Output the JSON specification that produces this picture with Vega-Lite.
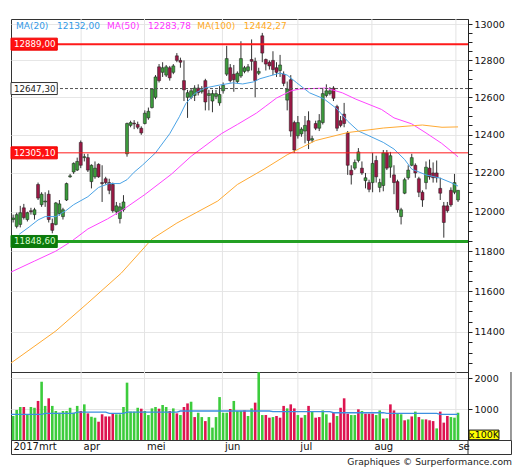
{
"$schema": "https://vega.github.io/schema/vega-lite/v6.json",
"padding": {"left": 7, "top": 18, "right": 4, "bottom": 4},
"background": "white",
"config": {
  "view": {"stroke": "#333333", "strokeWidth": 1},
  "font": "DejaVu Sans",
  "scale": {"continuousPadding": 0},
  "axis": {"labelFont": "DejaVu Sans", "labelFontSize": 9.5, "labelColor": "#111111", "tickColor": "#222222", "domainColor": "#222222", "tickSize": 4, "labelPadding": 2, "title": null}
},
"title": {"text": "Graphiques © Surperformance.com", "orient": "bottom", "anchor": "end", "font": "DejaVu Sans", "fontSize": 9.2, "fontWeight": "normal", "color": "#222222", "offset": 3},
"datasets": {
  "months": [
    {"g": -0.6, "m": "2017mrt"}, {"g": 19.1, "m": "apr"}, {"g": 36.9, "m": "mei"}, {"g": 58.8, "m": "jun"},
    {"g": 80.0, "m": "jul"}, {"g": 100.8, "m": "aug"}, {"g": 124.4, "m": "se"}
  ],
  "levels": [
    {"lvl": 12889, "lab": "12889,00", "k": "res"},
    {"lvl": 12647.3, "lab": "12647,30", "k": "close"},
    {"lvl": 12305.1, "lab": "12305,10", "k": "sup"},
    {"lvl": 11848.6, "lab": "11848,60", "k": "low"}
  ],
  "candles": [
    {"i":0,"o":11960,"h":11985,"l":11945,"c":11968,"d":"up"},
    {"i":1,"o":11925,"h":11995,"l":11915,"c":11985,"d":"up"},
    {"i":2,"o":11935,"h":12030,"l":11920,"c":11995,"d":"up"},
    {"i":3,"o":12020,"h":12040,"l":11960,"c":11970,"d":"dn"},
    {"i":4,"o":11960,"h":12000,"l":11950,"c":11995,"d":"up"},
    {"i":5,"o":12005,"h":12020,"l":11985,"c":12000,"d":"dn"},
    {"i":6,"o":11985,"h":12020,"l":11960,"c":12010,"d":"up"},
    {"i":7,"o":12140,"h":12150,"l":12060,"c":12070,"d":"dn"},
    {"i":8,"o":12036,"h":12100,"l":12025,"c":12090,"d":"up"},
    {"i":9,"o":12050,"h":12100,"l":12025,"c":12055,"d":"up"},
    {"i":10,"o":12090,"h":12110,"l":11945,"c":11960,"d":"dn"},
    {"i":11,"o":11940,"h":11965,"l":11890,"c":11905,"d":"dn"},
    {"i":12,"o":11935,"h":12050,"l":11930,"c":12045,"d":"up"},
    {"i":13,"o":11990,"h":12060,"l":11980,"c":12040,"d":"up"},
    {"i":14,"o":11975,"h":12020,"l":11960,"c":12010,"d":"up"},
    {"i":15,"o":12060,"h":12150,"l":12055,"c":12145,"d":"up"},
    {"i":16,"o":12180,"h":12195,"l":12175,"c":12185,"d":"up"},
    {"i":17,"o":12205,"h":12255,"l":12195,"c":12250,"d":"up"},
    {"i":18,"o":12215,"h":12280,"l":12210,"c":12260,"d":"up"},
    {"i":19,"o":12360,"h":12370,"l":12225,"c":12240,"d":"dn"},
    {"i":20,"o":12280,"h":12300,"l":12260,"c":12285,"d":"up"},
    {"i":21,"o":12280,"h":12300,"l":12205,"c":12215,"d":"dn"},
    {"i":22,"o":12155,"h":12245,"l":12120,"c":12240,"d":"up"},
    {"i":23,"o":12180,"h":12260,"l":12170,"c":12225,"d":"up"},
    {"i":24,"o":12245,"h":12250,"l":12175,"c":12180,"d":"dn"},
    {"i":25,"o":12150,"h":12240,"l":12050,"c":12145,"d":"dn"},
    {"i":26,"o":12170,"h":12180,"l":12140,"c":12150,"d":"dn"},
    {"i":27,"o":12150,"h":12170,"l":12090,"c":12110,"d":"dn"},
    {"i":28,"o":12140,"h":12150,"l":11995,"c":12005,"d":"dn"},
    {"i":29,"o":12000,"h":12050,"l":11985,"c":12030,"d":"up"},
    {"i":30,"o":11965,"h":12045,"l":11940,"c":12025,"d":"up"},
    {"i":31,"o":12010,"h":12085,"l":12000,"c":12050,"d":"up"},
    {"i":32,"o":12300,"h":12465,"l":12285,"c":12460,"d":"up"},
    {"i":33,"o":12450,"h":12475,"l":12440,"c":12465,"d":"up"},
    {"i":34,"o":12462,"h":12478,"l":12430,"c":12458,"d":"dn"},
    {"i":35,"o":12455,"h":12470,"l":12430,"c":12440,"d":"dn"},
    {"i":36,"o":12435,"h":12445,"l":12400,"c":12410,"d":"dn"},
    {"i":37,"o":12460,"h":12530,"l":12455,"c":12515,"d":"up"},
    {"i":38,"o":12490,"h":12545,"l":12480,"c":12525,"d":"up"},
    {"i":39,"o":12545,"h":12650,"l":12540,"c":12645,"d":"up"},
    {"i":40,"o":12600,"h":12720,"l":12590,"c":12710,"d":"up"},
    {"i":41,"o":12765,"h":12780,"l":12680,"c":12690,"d":"dn"},
    {"i":42,"o":12735,"h":12790,"l":12710,"c":12760,"d":"up"},
    {"i":43,"o":12720,"h":12775,"l":12710,"c":12765,"d":"up"},
    {"i":44,"o":12760,"h":12770,"l":12690,"c":12705,"d":"dn"},
    {"i":45,"o":12735,"h":12780,"l":12725,"c":12770,"d":"up"},
    {"i":46,"o":12825,"h":12840,"l":12790,"c":12800,"d":"dn"},
    {"i":47,"o":12800,"h":12815,"l":12760,"c":12790,"d":"dn"},
    {"i":48,"o":12690,"h":12800,"l":12580,"c":12640,"d":"dn"},
    {"i":49,"o":12600,"h":12640,"l":12490,"c":12625,"d":"up"},
    {"i":50,"o":12600,"h":12650,"l":12590,"c":12635,"d":"up"},
    {"i":51,"o":12610,"h":12665,"l":12580,"c":12650,"d":"up"},
    {"i":52,"o":12650,"h":12670,"l":12610,"c":12625,"d":"dn"},
    {"i":53,"o":12630,"h":12660,"l":12620,"c":12640,"d":"up"},
    {"i":54,"o":12690,"h":12700,"l":12530,"c":12575,"d":"dn"},
    {"i":55,"o":12610,"h":12640,"l":12530,"c":12620,"d":"up"},
    {"i":56,"o":12580,"h":12640,"l":12520,"c":12620,"d":"up"},
    {"i":57,"o":12605,"h":12640,"l":12590,"c":12620,"d":"up"},
    {"i":58,"o":12570,"h":12660,"l":12555,"c":12615,"d":"up"},
    {"i":59,"o":12635,"h":12680,"l":12620,"c":12665,"d":"up"},
    {"i":60,"o":12725,"h":12880,"l":12715,"c":12810,"d":"up"},
    {"i":61,"o":12760,"h":12780,"l":12680,"c":12690,"d":"dn"},
    {"i":62,"o":12725,"h":12775,"l":12630,"c":12695,"d":"dn"},
    {"i":63,"o":12685,"h":12740,"l":12675,"c":12730,"d":"up"},
    {"i":64,"o":12715,"h":12905,"l":12705,"c":12810,"d":"up"},
    {"i":65,"o":12740,"h":12770,"l":12730,"c":12760,"d":"up"},
    {"i":66,"o":12745,"h":12780,"l":12735,"c":12765,"d":"up"},
    {"i":67,"o":12805,"h":12915,"l":12745,"c":12795,"d":"dn"},
    {"i":68,"o":12795,"h":12815,"l":12600,"c":12690,"d":"dn"},
    {"i":69,"o":12730,"h":12760,"l":12720,"c":12740,"d":"up"},
    {"i":70,"o":12935,"h":12951,"l":12790,"c":12840,"d":"dn"},
    {"i":71,"o":12805,"h":12810,"l":12745,"c":12780,"d":"dn"},
    {"i":72,"o":12790,"h":12800,"l":12750,"c":12770,"d":"dn"},
    {"i":73,"o":12800,"h":12850,"l":12720,"c":12750,"d":"dn"},
    {"i":74,"o":12760,"h":12790,"l":12710,"c":12735,"d":"dn"},
    {"i":75,"o":12745,"h":12830,"l":12710,"c":12775,"d":"up"},
    {"i":76,"o":12725,"h":12740,"l":12660,"c":12675,"d":"dn"},
    {"i":77,"o":12585,"h":12685,"l":12530,"c":12645,"d":"up"},
    {"i":78,"o":12695,"h":12720,"l":12390,"c":12420,"d":"dn"},
    {"i":79,"o":12465,"h":12475,"l":12305,"c":12320,"d":"dn"},
    {"i":80,"o":12395,"h":12500,"l":12380,"c":12465,"d":"up"},
    {"i":81,"o":12405,"h":12440,"l":12390,"c":12430,"d":"up"},
    {"i":82,"o":12420,"h":12500,"l":12355,"c":12450,"d":"up"},
    {"i":83,"o":12475,"h":12525,"l":12325,"c":12370,"d":"dn"},
    {"i":84,"o":12372,"h":12395,"l":12360,"c":12380,"d":"up"},
    {"i":85,"o":12460,"h":12475,"l":12425,"c":12435,"d":"dn"},
    {"i":86,"o":12435,"h":12510,"l":12420,"c":12475,"d":"up"},
    {"i":87,"o":12465,"h":12645,"l":12455,"c":12620,"d":"up"},
    {"i":88,"o":12610,"h":12670,"l":12600,"c":12635,"d":"up"},
    {"i":89,"o":12620,"h":12655,"l":12610,"c":12635,"d":"up"},
    {"i":90,"o":12650,"h":12660,"l":12580,"c":12595,"d":"dn"},
    {"i":91,"o":12550,"h":12560,"l":12420,"c":12435,"d":"dn"},
    {"i":92,"o":12475,"h":12500,"l":12440,"c":12450,"d":"dn"},
    {"i":93,"o":12510,"h":12570,"l":12440,"c":12460,"d":"dn"},
    {"i":94,"o":12410,"h":12420,"l":12190,"c":12240,"d":"dn"},
    {"i":95,"o":12214,"h":12240,"l":12140,"c":12190,"d":"dn"},
    {"i":96,"o":12225,"h":12270,"l":12215,"c":12255,"d":"up"},
    {"i":97,"o":12265,"h":12330,"l":12255,"c":12310,"d":"up"},
    {"i":98,"o":12225,"h":12260,"l":12190,"c":12200,"d":"dn"},
    {"i":99,"o":12160,"h":12200,"l":12120,"c":12175,"d":"up"},
    {"i":100,"o":12150,"h":12165,"l":12100,"c":12115,"d":"dn"},
    {"i":101,"o":12150,"h":12305,"l":12100,"c":12250,"d":"up"},
    {"i":102,"o":12265,"h":12290,"l":12150,"c":12180,"d":"dn"},
    {"i":103,"o":12125,"h":12170,"l":12100,"c":12150,"d":"up"},
    {"i":104,"o":12135,"h":12320,"l":12105,"c":12305,"d":"up"},
    {"i":105,"o":12305,"h":12320,"l":12215,"c":12225,"d":"dn"},
    {"i":106,"o":12230,"h":12310,"l":12175,"c":12290,"d":"up"},
    {"i":107,"o":12190,"h":12240,"l":12090,"c":12150,"d":"dn"},
    {"i":108,"o":12155,"h":12165,"l":11995,"c":12010,"d":"dn"},
    {"i":109,"o":11975,"h":12020,"l":11935,"c":12010,"d":"up"},
    {"i":110,"o":12095,"h":12175,"l":12090,"c":12165,"d":"up"},
    {"i":111,"o":12175,"h":12240,"l":12165,"c":12215,"d":"up"},
    {"i":112,"o":12240,"h":12300,"l":12235,"c":12280,"d":"up"},
    {"i":113,"o":12240,"h":12250,"l":12175,"c":12200,"d":"dn"},
    {"i":114,"o":12170,"h":12180,"l":12075,"c":12100,"d":"dn"},
    {"i":115,"o":12100,"h":12110,"l":12025,"c":12060,"d":"dn"},
    {"i":116,"o":12150,"h":12260,"l":12115,"c":12230,"d":"up"},
    {"i":117,"o":12225,"h":12270,"l":12165,"c":12180,"d":"dn"},
    {"i":118,"o":12200,"h":12255,"l":12150,"c":12175,"d":"dn"},
    {"i":119,"o":12200,"h":12265,"l":12150,"c":12175,"d":"dn"},
    {"i":120,"o":12120,"h":12175,"l":12060,"c":12095,"d":"dn"},
    {"i":121,"o":12030,"h":12050,"l":11868,"c":11945,"d":"dn"},
    {"i":122,"o":12030,"h":12050,"l":11995,"c":12005,"d":"dn"},
    {"i":123,"o":12110,"h":12125,"l":12025,"c":12035,"d":"dn"},
    {"i":124,"o":12100,"h":12195,"l":12090,"c":12150,"d":"up"},
    {"i":125,"o":12060,"h":12110,"l":12050,"c":12110,"d":"up"}
  ],
  "ma": [
    {"s":"MA20","i":1.7,"v":11885},{"s":"MA20","i":4.5,"v":11922},{"s":"MA20","i":7,"v":11958},{"s":"MA20","i":9,"v":11975},
    {"s":"MA20","i":12,"v":11975},{"s":"MA20","i":14.8,"v":12005},{"s":"MA20","i":17,"v":12036},{"s":"MA20","i":21,"v":12077},
    {"s":"MA20","i":24,"v":12125},{"s":"MA20","i":27,"v":12145},{"s":"MA20","i":30,"v":12145},{"s":"MA20","i":32,"v":12165},
    {"s":"MA20","i":34,"v":12204},{"s":"MA20","i":36.3,"v":12240},{"s":"MA20","i":40,"v":12305},{"s":"MA20","i":44,"v":12406},
    {"s":"MA20","i":46.7,"v":12496},{"s":"MA20","i":48.5,"v":12566},{"s":"MA20","i":51,"v":12620},{"s":"MA20","i":53.8,"v":12650},
    {"s":"MA20","i":58,"v":12666},{"s":"MA20","i":61.7,"v":12678},{"s":"MA20","i":64.5,"v":12672},{"s":"MA20","i":67.5,"v":12683},
    {"s":"MA20","i":69.3,"v":12700},{"s":"MA20","i":72,"v":12715},{"s":"MA20","i":75,"v":12731},{"s":"MA20","i":77,"v":12720},
    {"s":"MA20","i":79.7,"v":12678},{"s":"MA20","i":83.3,"v":12624},{"s":"MA20","i":87.3,"v":12592},{"s":"MA20","i":91,"v":12538},
    {"s":"MA20","i":94,"v":12472},{"s":"MA20","i":97,"v":12420},{"s":"MA20","i":99.4,"v":12400},{"s":"MA20","i":104,"v":12360},
    {"s":"MA20","i":107,"v":12325},{"s":"MA20","i":110,"v":12270},{"s":"MA20","i":112,"v":12220},{"s":"MA20","i":116,"v":12190},
    {"s":"MA20","i":120,"v":12173},{"s":"MA20","i":123,"v":12150},{"s":"MA20","i":125,"v":12132},
    {"s":"MA50","i":-0.6,"v":11695},{"s":"MA50","i":6,"v":11750},{"s":"MA50","i":12,"v":11800},{"s":"MA50","i":16.5,"v":11851},
    {"s":"MA50","i":21,"v":11912},{"s":"MA50","i":26.5,"v":11963},{"s":"MA50","i":31,"v":12012},{"s":"MA50","i":37,"v":12088},
    {"s":"MA50","i":44.5,"v":12194},{"s":"MA50","i":50,"v":12287},{"s":"MA50","i":58.5,"v":12406},{"s":"MA50","i":63,"v":12455},
    {"s":"MA50","i":68.4,"v":12516},{"s":"MA50","i":71,"v":12553},{"s":"MA50","i":74,"v":12596},{"s":"MA50","i":78,"v":12634},
    {"s":"MA50","i":80.5,"v":12645},{"s":"MA50","i":88,"v":12650},{"s":"MA50","i":92.5,"v":12624},{"s":"MA50","i":96.3,"v":12590},
    {"s":"MA50","i":103.5,"v":12535},{"s":"MA50","i":107,"v":12490},{"s":"MA50","i":112,"v":12458},{"s":"MA50","i":116,"v":12410},
    {"s":"MA50","i":120.4,"v":12355},{"s":"MA50","i":124,"v":12300},{"s":"MA50","i":125,"v":12284},
    {"s":"MA100","i":-0.6,"v":11250},{"s":"MA100","i":12,"v":11405},{"s":"MA100","i":21,"v":11542},{"s":"MA100","i":30.4,"v":11690},
    {"s":"MA100","i":39,"v":11861},{"s":"MA100","i":46,"v":11942},{"s":"MA100","i":57.5,"v":12055},{"s":"MA100","i":63,"v":12140},
    {"s":"MA100","i":70.5,"v":12220},{"s":"MA100","i":77,"v":12295},{"s":"MA100","i":85,"v":12370},{"s":"MA100","i":94,"v":12412},
    {"s":"MA100","i":104,"v":12436},{"s":"MA100","i":112,"v":12448},{"s":"MA100","i":115,"v":12452},{"s":"MA100","i":120.5,"v":12440},
    {"s":"MA100","i":125,"v":12442}
  ],
  "vol": [
    {"i":0,"v":775,"d":"up"},{"i":1,"v":970,"d":"up"},{"i":2,"v":1065,"d":"up"},{"i":3,"v":1065,"d":"dn"},{"i":4,"v":830,"d":"up"},
    {"i":5,"v":1065,"d":"up"},{"i":6,"v":1040,"d":"up"},{"i":7,"v":1260,"d":"dn"},{"i":8,"v":1880,"d":"up"},{"i":9,"v":1100,"d":"up"},
    {"i":10,"v":1345,"d":"dn"},{"i":11,"v":1100,"d":"up"},{"i":12,"v":935,"d":"up"},{"i":13,"v":880,"d":"up"},{"i":14,"v":935,"d":"up"},
    {"i":15,"v":935,"d":"up"},{"i":16,"v":1040,"d":"up"},{"i":17,"v":880,"d":"up"},{"i":18,"v":1100,"d":"up"},{"i":19,"v":935,"d":"dn"},
    {"i":20,"v":1150,"d":"up"},{"i":21,"v":860,"d":"dn"},{"i":22,"v":750,"d":"up"},{"i":23,"v":720,"d":"up"},{"i":24,"v":590,"d":"dn"},
    {"i":25,"v":830,"d":"dn"},{"i":26,"v":760,"d":"dn"},{"i":27,"v":760,"d":"dn"},{"i":28,"v":850,"d":"dn"},{"i":29,"v":830,"d":"up"},
    {"i":30,"v":830,"d":"up"},{"i":31,"v":1065,"d":"up"},{"i":32,"v":1850,"d":"up"},{"i":33,"v":915,"d":"up"},{"i":34,"v":915,"d":"up"},
    {"i":35,"v":1040,"d":"up"},{"i":36,"v":1010,"d":"dn"},{"i":37,"v":935,"d":"up"},{"i":38,"v":805,"d":"up"},{"i":39,"v":1020,"d":"up"},
    {"i":40,"v":1065,"d":"up"},{"i":41,"v":1010,"d":"dn"},{"i":42,"v":1130,"d":"up"},{"i":43,"v":1065,"d":"up"},{"i":44,"v":935,"d":"dn"},
    {"i":45,"v":1020,"d":"up"},{"i":46,"v":860,"d":"dn"},{"i":47,"v":805,"d":"up"},{"i":48,"v":1065,"d":"dn"},{"i":49,"v":1180,"d":"dn"},
    {"i":50,"v":1235,"d":"up"},{"i":51,"v":740,"d":"dn"},{"i":52,"v":880,"d":"up"},{"i":53,"v":740,"d":"up"},{"i":54,"v":610,"d":"dn"},
    {"i":55,"v":740,"d":"up"},{"i":56,"v":400,"d":"up"},{"i":57,"v":740,"d":"up"},{"i":58,"v":1385,"d":"up"},{"i":59,"v":880,"d":"up"},
    {"i":60,"v":880,"d":"up"},{"i":61,"v":1000,"d":"dn"},{"i":62,"v":1260,"d":"up"},{"i":63,"v":935,"d":"up"},{"i":64,"v":935,"d":"up"},
    {"i":65,"v":955,"d":"dn"},{"i":66,"v":775,"d":"up"},{"i":67,"v":1020,"d":"up"},{"i":68,"v":1205,"d":"dn"},{"i":69,"v":2190,"d":"up"},
    {"i":70,"v":805,"d":"up"},{"i":71,"v":805,"d":"dn"},{"i":72,"v":720,"d":"dn"},{"i":73,"v":740,"d":"up"},{"i":74,"v":775,"d":"dn"},
    {"i":75,"v":720,"d":"dn"},{"i":76,"v":1100,"d":"dn"},{"i":77,"v":1020,"d":"up"},{"i":78,"v":1150,"d":"dn"},{"i":79,"v":1020,"d":"dn"},
    {"i":80,"v":805,"d":"up"},{"i":81,"v":720,"d":"dn"},{"i":82,"v":805,"d":"up"},{"i":83,"v":1100,"d":"dn"},{"i":84,"v":915,"d":"up"},
    {"i":85,"v":720,"d":"dn"},{"i":86,"v":740,"d":"dn"},{"i":87,"v":955,"d":"up"},{"i":88,"v":830,"d":"up"},{"i":89,"v":560,"d":"dn"},
    {"i":90,"v":880,"d":"dn"},{"i":91,"v":775,"d":"up"},{"i":92,"v":1040,"d":"dn"},{"i":93,"v":1345,"d":"dn"},{"i":94,"v":850,"d":"dn"},
    {"i":95,"v":805,"d":"up"},{"i":96,"v":805,"d":"up"},{"i":97,"v":990,"d":"dn"},{"i":98,"v":935,"d":"up"},{"i":99,"v":850,"d":"dn"},
    {"i":100,"v":850,"d":"dn"},{"i":101,"v":850,"d":"dn"},{"i":102,"v":805,"d":"up"},{"i":103,"v":955,"d":"up"},{"i":104,"v":690,"d":"dn"},
    {"i":105,"v":700,"d":"up"},{"i":106,"v":1150,"d":"dn"},{"i":107,"v":955,"d":"dn"},{"i":108,"v":850,"d":"up"},{"i":109,"v":830,"d":"up"},
    {"i":110,"v":635,"d":"dn"},{"i":111,"v":665,"d":"up"},{"i":112,"v":760,"d":"dn"},{"i":113,"v":915,"d":"up"},{"i":114,"v":740,"d":"dn"},
    {"i":115,"v":665,"d":"up"},{"i":116,"v":665,"d":"dn"},{"i":117,"v":635,"d":"dn"},{"i":118,"v":610,"d":"dn"},{"i":119,"v":375,"d":"up"},
    {"i":120,"v":915,"d":"dn"},{"i":121,"v":560,"d":"dn"},{"i":122,"v":775,"d":"dn"},{"i":123,"v":740,"d":"up"},{"i":124,"v":720,"d":"up"},
    {"i":125,"v":880,"d":"up"}
  ],
  "vma": [
    {"i":-0.6,"v":830},{"i":8,"v":830},{"i":9,"v":860},{"i":17,"v":860},{"i":18,"v":900},{"i":26,"v":900},{"i":27,"v":860},
    {"i":31,"v":860},{"i":32,"v":900},{"i":46,"v":900},{"i":47,"v":935},{"i":72,"v":935},{"i":73,"v":915},{"i":89,"v":915},
    {"i":90,"v":880},{"i":104,"v":880},{"i":105,"v":860},{"i":119,"v":860},{"i":120,"v":830},{"i":125,"v":830}
  ]
},
"spacing": 0,
"bounds": "flush",
"resolve": {"scale": {"x": "independent", "y": "independent"}},
"vconcat": [
  {
    "width": 457, "height": 353,
    "layer": [
      {"data": {"name": "months"}, "transform": [{"filter": "datum.g > 0"}],
       "mark": {"type": "rule", "color": "#e4e4e4", "strokeWidth": 1},
       "encoding": {"x": {"field": "g", "type": "quantitative", "scale": {"domain": [-0.6, 127.8], "nice": false, "zero": false, "padding": 0}, "axis": null}}},
      {"data": {"name": "candles"},
       "mark": {"type": "rule", "color": "#333333", "strokeWidth": 1},
       "encoding": {
         "x": {"field": "i", "type": "quantitative", "axis": null},
         "y": {"field": "l", "type": "quantitative",
               "scale": {"type": "log", "domain": [11207, 13028], "nice": false, "zero": false, "padding": 0},
               "axis": {"orient": "right",
                        "values": [11250,11300,11350,11400,11450,11500,11550,11600,11650,11700,11750,11800,11850,11900,11950,12000,12050,12100,12150,12200,12250,12300,12350,12400,12450,12500,12550,12600,12650,12700,12750,12800,12850,12900,12950,13000],
                        "labelExpr": "datum.value % 200 === 0 ? datum.value : ''",
                        "labelOverlap": false,
                        "grid": true, "gridColor": "#e6e6e6",
                        "gridOpacity": {"condition": {"test": "datum.value % 200 === 0", "value": 1}, "value": 0}}},
         "y2": {"field": "h"}}},
      {"data": {"name": "candles"},
       "mark": {"type": "bar", "orient": "vertical", "size": 3, "stroke": "#1a1a1a", "strokeWidth": 0.5},
       "encoding": {
         "x": {"field": "i", "type": "quantitative", "axis": null},
         "y": {"field": "o", "type": "quantitative"},
         "y2": {"field": "c"},
         "fill": {"condition": {"test": "datum.d === 'up'", "value": "#3c9a3c"}, "value": "#9b1845"}}},
      {"data": {"name": "ma"},
       "mark": {"type": "line", "strokeWidth": 1},
       "encoding": {
         "x": {"field": "i", "type": "quantitative", "axis": null},
         "y": {"field": "v", "type": "quantitative"},
         "color": {"field": "s", "type": "nominal", "scale": {"domain": ["MA20", "MA50", "MA100"], "range": ["#4aa3e6", "#ff44ff", "#ffaa33"]}, "legend": null}}},
      {"data": {"name": "levels"},
       "mark": {"type": "rule"},
       "encoding": {
         "y": {"field": "lvl", "type": "quantitative"},
         "stroke": {"condition": [{"test": "datum.k === 'close'", "value": "#555555"}, {"test": "datum.k === 'low'", "value": "#23a023"}], "value": "#ff1a1a"},
         "strokeWidth": {"condition": [{"test": "datum.k === 'close'", "value": 1}, {"test": "datum.k === 'low'", "value": 3}, {"test": "datum.k === 'res'", "value": 2}], "value": 1},
         "strokeDash": {"condition": {"test": "datum.k === 'close'", "value": [3, 2]}, "value": [1, 0]}}},
      {"data": {"name": "levels"},
       "mark": {"type": "bar", "orient": "horizontal", "size": 12, "strokeWidth": 1},
       "encoding": {
         "x": {"datum": -0.6, "type": "quantitative"},
         "x2": {"datum": 12.4},
         "y": {"field": "lvl", "type": "quantitative"},
         "fill": {"condition": [{"test": "datum.k === 'close'", "value": "#ffffff"}, {"test": "datum.k === 'low'", "value": "#0b7a0b"}], "value": "#ff1111"},
         "stroke": {"condition": [{"test": "datum.k === 'close'", "value": "#333333"}, {"test": "datum.k === 'low'", "value": "#0b7a0b"}], "value": "#ee0000"}}},
      {"data": {"name": "levels"},
       "mark": {"type": "text", "align": "left", "baseline": "middle", "dx": 3, "fontSize": 8.7, "font": "DejaVu Sans"},
       "encoding": {
         "x": {"datum": -0.6, "type": "quantitative"},
         "y": {"field": "lvl", "type": "quantitative"},
         "text": {"field": "lab"},
         "color": {"condition": [{"test": "datum.k === 'close'", "value": "#222222"}, {"test": "datum.k === 'low'", "value": "#d8ffd0"}], "value": "#ffffff"}}},
      {"data": {"values": [{"t": "MA(20)\u00a0\u00a0\u00a012132,00"}]},
       "mark": {"type": "text", "align": "left", "baseline": "middle", "fontSize": 9, "font": "DejaVu Sans", "color": "#3399e6"},
       "encoding": {"x": {"datum": 0.8, "type": "quantitative"}, "y": {"datum": 12990, "type": "quantitative"}, "text": {"field": "t"}}},
      {"data": {"values": [{"t": "MA(50)\u00a0\u00a0\u00a012283,78"}]},
       "mark": {"type": "text", "align": "left", "baseline": "middle", "fontSize": 9, "font": "DejaVu Sans", "color": "#ff33ff"},
       "encoding": {"x": {"datum": 26.4, "type": "quantitative"}, "y": {"datum": 12990, "type": "quantitative"}, "text": {"field": "t"}}},
      {"data": {"values": [{"t": "MA(100)\u00a0\u00a0\u00a012442,27"}]},
       "mark": {"type": "text", "align": "left", "baseline": "middle", "fontSize": 9, "font": "DejaVu Sans", "color": "#ffaa22"},
       "encoding": {"x": {"datum": 51.7, "type": "quantitative"}, "y": {"datum": 12990, "type": "quantitative"}, "text": {"field": "t"}}}
    ]
  },
  {
    "width": 457, "height": 68,
    "layer": [
      {"data": {"name": "months"}, "transform": [{"filter": "datum.g > 0"}],
       "mark": {"type": "rule", "color": "#e4e4e4", "strokeWidth": 1},
       "encoding": {"x": {"field": "g", "type": "quantitative", "scale": {"domain": [-0.6, 127.8], "nice": false, "zero": false, "padding": 0}, "axis": null}}},
      {"data": {"name": "vol"},
       "mark": {"type": "bar", "orient": "vertical", "size": 2.6},
       "encoding": {
         "x": {"field": "i", "type": "quantitative", "axis": null},
         "y": {"field": "v", "type": "quantitative",
               "scale": {"domain": [0, 2194], "nice": false, "zero": true, "padding": 0},
               "axis": {"orient": "right", "values": [1000, 2000], "format": "d",
                        "labelOverlap": false, "grid": true, "gridColor": "#e6e6e6"}},
         "fill": {"condition": {"test": "datum.d === 'up'", "value": "#3ccc3c"}, "value": "#dd1450"}}},
      {"data": {"name": "vma"},
       "mark": {"type": "line", "color": "#3d8fe0", "strokeWidth": 1.3},
       "encoding": {"x": {"field": "i", "type": "quantitative", "axis": null}, "y": {"field": "v", "type": "quantitative"}}},
      {"data": {"values": [{"t": "x100K"}]},
       "mark": {"type": "rect", "fill": "#ffff00", "stroke": "#111111", "strokeWidth": 1},
       "encoding": {"x": {"datum": 128.1, "type": "quantitative"}, "x2": {"datum": 136.5}, "y": {"datum": 10, "type": "quantitative"}, "y2": {"datum": 320}}},
      {"data": {"values": [{"t": "x100K"}]},
       "mark": {"type": "text", "align": "center", "baseline": "middle", "fontSize": 9.5, "font": "DejaVu Sans", "color": "#111111"},
       "encoding": {"x": {"datum": 132.3, "type": "quantitative"}, "y": {"datum": 165, "type": "quantitative"}, "text": {"field": "t"}}},
      {"data": {"values": [{"e": 1}]},
       "mark": {"type": "rule", "color": "#333333", "strokeWidth": 1},
       "encoding": {"x": {"datum": 139.88, "type": "quantitative"}}}
    ]
  },
  {
    "width": 500, "height": 14,
    "layer": [
      {"data": {"name": "months"},
       "mark": {"type": "text", "align": "left", "baseline": "middle", "dx": 2.5, "fontSize": 10, "font": "DejaVu Sans", "color": "#111111"},
       "encoding": {"x": {"field": "g", "type": "quantitative", "scale": {"domain": [-0.6, 139.88], "nice": false, "zero": false, "padding": 0}, "axis": null}, "text": {"field": "m"}}},
      {"data": {"values": [{"e": 1}]},
       "mark": {"type": "rule", "color": "#333333", "strokeWidth": 1},
       "encoding": {"x": {"datum": 127.8, "type": "quantitative"}}}
    ]
  }
]
}
